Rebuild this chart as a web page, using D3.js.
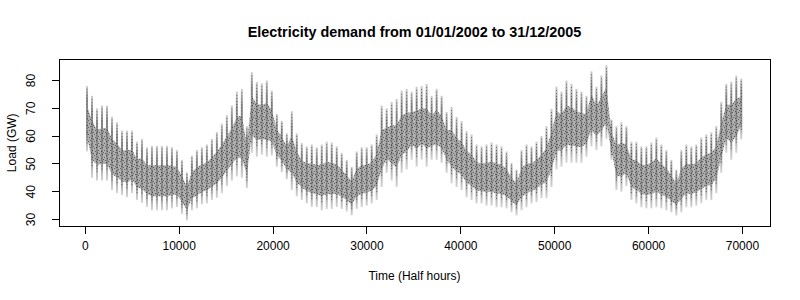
<!DOCTYPE html>
<html>
<head>
<meta charset="utf-8">
<script src="https://cdn.jsdelivr.net/npm/d3@7"></script>
<style>
  html, body { margin: 0; padding: 0; background: #fff; }
  svg { display: block; font-family: "Liberation Sans", Arial, Helvetica, sans-serif; }
</style>
</head>
<body>
<svg id="chart" width="800" height="300"></svg>
<script>
// Half-hourly load 2002-2005, read off the plot as an envelope:
// one sample every STEP half hours starting at FIRST, upper and lower edge in GW.
const N_HALF_HOURS = 70128;
const FIRST = 180;
const STEP = 532;

const loadHigh = [
  78, 74.5, 70, 71, 71, 67, 65, 62, 62, 62,
  58, 59, 56, 56.5, 56.5, 56.5, 56.5, 56, 55, 51.5,
  47, 53, 55, 56, 57, 59, 61.5, 64.5, 67.5, 71,
  76, 77, 63.6, 83, 79.5, 79, 80, 76.4, 68, 65.5,
  61, 69, 61, 57.5, 56.3, 57, 56, 57, 58, 57.7,
  56.3, 54, 51.5, 49, 54.5, 56, 56, 57, 60.6, 71,
  70, 72.3, 73.4, 76.4, 77, 76, 77.8, 78, 78.8, 74.5,
  77, 74.5, 68.7, 70.5, 66.9, 65.4, 61.8, 60.6, 57, 56.3,
  57, 57.7, 57, 56.3, 54.5, 50.4, 48, 55, 57, 56.3,
  58, 60, 63.6, 69.8, 77.8, 76, 80, 78.8, 77, 76,
  74.5, 83.3, 77.8, 81.8, 85.5, 66, 63.6, 65, 63.6, 58,
  58, 56.3, 56.3, 57.7, 59.5, 57, 55, 51.5, 48, 55,
  57, 56.3, 57, 59.5, 60.6, 61.4, 63.6, 72.3, 78.8, 79.6,
  81.8, 80.7
];

const loadLow = [
  54.5, 45, 44, 44, 44, 40.6, 39.5, 38.8, 38, 39.5,
  37, 36, 34.5, 33.3, 33.3, 33.3, 33.3, 34, 34.5, 32,
  29.7, 33.3, 34, 35.5, 35.8, 37, 37.8, 39.5, 42, 44,
  45.5, 45, 41.3, 54, 52.6, 53.3, 52.6, 53, 49, 47,
  44.5, 40.6, 38.3, 37, 35.8, 34.5, 34.5, 33.3, 33.8, 33.8,
  34.5, 33.8, 32.9, 31.5, 33.8, 34.5, 35, 35.8, 37, 41.7,
  46.8, 44, 41.7, 46.8, 48, 51.5, 49, 51.5, 49, 51.5,
  51.5, 50.4, 46.8, 43, 41.7, 40.6, 38, 37, 35.8, 35.8,
  35, 35, 34.4, 34.4, 34, 32.6, 31.5, 33.3, 34.4, 35.8,
  36.3, 37.7, 37.7, 41.7, 48, 49, 50.4, 50.4, 50.4, 50.4,
  52.6, 56.3, 55, 56.3, 59, 51.5, 40.6, 40, 42, 37,
  35.8, 34.4, 34, 34, 34.4, 34, 33.3, 32.6, 31.5, 32.6,
  34.4, 34.4, 35, 35.8, 37, 37, 39.5, 46.8, 54, 51.5,
  54, 58.8
];

const xTicks = [0, 10000, 20000, 30000, 40000, 50000, 60000, 70000];
const yTicks = [30, 40, 50, 60, 70, 80];

const TITLE = "Electricity demand from 01/01/2002 to 31/12/2005";
const X_LABEL = "Time (Half hours)";
const Y_LABEL = "Load (GW)";

// ── layout (R base graphics defaults: mar = c(5,4,4,2)+0.1, 14.4px lines) ──

const plot = { left: 59, right: 770, top: 59, bottom: 226.6 };
const LINE = 14.4;

const samples = loadHigh.map((hi, i) => ({ t: FIRST + i * STEP, hi, lo: loadLow[i] }));

// R pads both axes by 4% of the data range
const yMin = d3.min(loadLow), yMax = d3.max(loadHigh);
const yPad = (yMax - yMin) * 0.04;
const x = d3.scaleLinear()
  .domain([-0.04 * N_HALF_HOURS, 1.04 * N_HALF_HOURS])
  .range([plot.left, plot.right]);
const y = d3.scaleLinear()
  .domain([yMin - yPad, yMax + yPad])
  .range([plot.bottom, plot.top]);

const svg = d3.select("#chart");

// ── series ───────────────────────────────────────────────────────────────

const defs = svg.append("defs");
const grad = defs.append("linearGradient")
  .attr("id", "tooth").attr("x1", 0).attr("y1", 0).attr("x2", 0).attr("y2", 1);
[[0, "#cfcfcf"], [0.2, "#8f8f8f"], [0.75, "#969696"], [1, "#d6d6d6"]].forEach(([o, c]) =>
  grad.append("stop").attr("offset", o).attr("stop-color", c));

// fixed dot tile standing in for the overplotted dotted line
const tile = defs.append("pattern")
  .attr("id", "speck").attr("patternUnits", "userSpaceOnUse")
  .attr("width", 6).attr("height", 7);
[[0, 0], [4, 1], [2, 3], [5, 4], [1, 5], [3, 6]].forEach(([px, py]) =>
  tile.append("rect").attr("x", px).attr("y", py).attr("width", 1).attr("height", 1)
    .attr("fill", "#111").attr("opacity", 0.5));

const series = svg.append("g");

const core = d3.area()
  .x(d => x(d.t))
  .y0(d => y(d.lo + 0.22 * (d.hi - d.lo)))
  .y1(d => y(d.hi - 0.3 * (d.hi - d.lo)));

// dense core of the band
series.append("path").datum(samples).attr("fill", "#b0b0b0").attr("d", core);

// weekly teeth reaching out to the envelope
series.selectAll("rect.tooth")
  .data(samples)
  .join("rect")
  .attr("class", "tooth")
  .attr("x", d => x(d.t) - 1)
  .attr("width", 2)
  .attr("y", d => y(d.hi))
  .attr("height", d => y(d.lo) - y(d.hi))
  .attr("fill", "url(#tooth)");

series.append("path").datum(samples).attr("fill", "url(#speck)").attr("d", core);

// dark speckle along each tooth
series.selectAll("line.speck")
  .data(samples)
  .join("line")
  .attr("class", "speck")
  .attr("x1", d => x(d.t)).attr("x2", d => x(d.t))
  .attr("y1", d => y(d.hi - 0.04 * (d.hi - d.lo)))
  .attr("y2", d => y(d.lo + 0.12 * (d.hi - d.lo)))
  .attr("stroke", "#111")
  .attr("stroke-width", 0.8)
  .attr("stroke-dasharray", "1,2")
  .attr("opacity", 0.6);

// ── frame and axes ───────────────────────────────────────────────────────

const ink = svg.append("g").attr("stroke", "#000").attr("fill", "none")
  .attr("shape-rendering", "crispEdges");

ink.append("rect")
  .attr("x", plot.left).attr("y", plot.top)
  .attr("width", plot.right - plot.left).attr("height", plot.bottom - plot.top);

const tick = 0.5 * LINE;

ink.append("line")
  .attr("x1", x(xTicks[0])).attr("x2", x(xTicks[xTicks.length - 1]))
  .attr("y1", plot.bottom).attr("y2", plot.bottom);
ink.selectAll("line.xt").data(xTicks).join("line").attr("class", "xt")
  .attr("x1", d => x(d)).attr("x2", d => x(d))
  .attr("y1", plot.bottom).attr("y2", plot.bottom + tick);

ink.append("line")
  .attr("y1", y(yTicks[0])).attr("y2", y(yTicks[yTicks.length - 1]))
  .attr("x1", plot.left).attr("x2", plot.left);
ink.selectAll("line.yt").data(yTicks).join("line").attr("class", "yt")
  .attr("y1", d => y(d)).attr("y2", d => y(d))
  .attr("x1", plot.left).attr("x2", plot.left - tick);

const text = svg.append("g").attr("fill", "#000").attr("font-size", 12);

text.selectAll("text.xl").data(xTicks).join("text").attr("class", "xl")
  .attr("x", d => x(d)).attr("y", plot.bottom + 1.65 * LINE)
  .attr("text-anchor", "middle")
  .text(d => d);

text.selectAll("text.yl").data(yTicks).join("text").attr("class", "yl")
  .attr("transform", d => `translate(${plot.left - 1.65 * LINE},${y(d)}) rotate(-90)`)
  .attr("text-anchor", "middle")
  .text(d => d);

text.append("text")
  .attr("x", (plot.left + plot.right) / 2).attr("y", plot.bottom + 3.7 * LINE)
  .attr("text-anchor", "middle")
  .text(X_LABEL);

text.append("text")
  .attr("transform", `translate(${plot.left - 3 * LINE},${(plot.top + plot.bottom) / 2}) rotate(-90)`)
  .attr("text-anchor", "middle")
  .text(Y_LABEL);

text.append("text")
  .attr("x", (plot.left + plot.right) / 2).attr("y", 37)
  .attr("text-anchor", "middle")
  .attr("font-size", 14.4).attr("font-weight", "bold")
  .text(TITLE);
</script>
</body>
</html>
